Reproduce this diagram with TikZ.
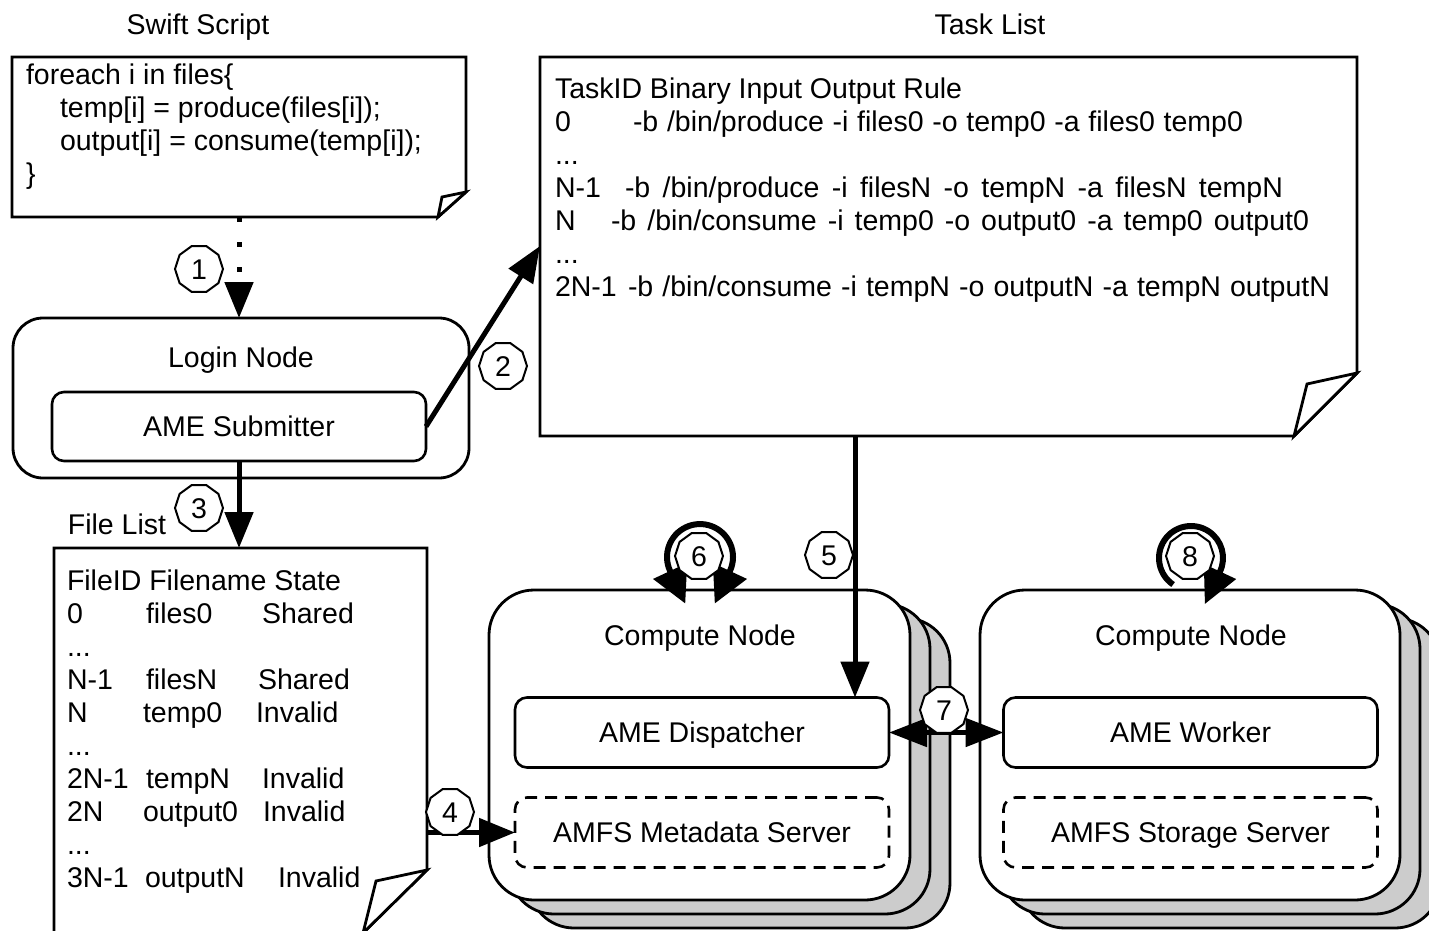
\documentclass[tikz,border=0pt]{standalone}
\usepackage{fontspec}
\setmainfont{Liberation Sans}
\usetikzlibrary{arrows.meta,shapes.geometric,calc}
\definecolor{stackgray}{RGB}{204,204,204}
\tikzset{
  txt/.style={font=\fontsize{28.5}{33}\selectfont, inner sep=0pt, outer sep=0pt},
  lt/.style={txt, anchor=base west},
  ct/.style={txt, anchor=base},
  docline/.style={line width=2.8pt},
  hold/.style={inner sep=0pt, outer sep=0pt, minimum width=#1},
  bigbox/.style={draw, line width=2.8pt, rectangle, inner sep=0pt, outer sep=0pt},
  innerbox/.style={txt, draw, line width=2.6pt, rounded corners=12pt, fill=white,
     minimum width=374pt, minimum height=70pt, text height=20.5pt, text depth=0pt},
  dashbox/.style={innerbox, dash pattern=on 12pt off 8pt},
  num/.style={txt, draw, line width=2pt, fill=white, regular polygon, regular polygon sides=10,
     minimum size=48pt, text height=20.5pt, text depth=0pt},
  arr/.style={line width=5pt, -{Triangle[width=28pt,length=36pt]}},
  dbl/.style={line width=5pt, {Triangle[width=28pt,length=38pt]}-{Triangle[width=28pt,length=38pt]}},
  loopline/.style={line width=6pt}
}
\begin{document}
\begin{tikzpicture}[x=1pt,y=-1pt]
\useasboundingbox (0,0) rectangle (1429,930);

% ---------- Swift script ----------
\node[ct] (swiftlbl) at (198,34) {Swift Script};
\node[hold=454pt, minimum height=160pt] (swift) at (239,137) {};
\draw[docline, fill=white] (12,57) -- (466,57) -- (466,192) -- (438,217) -- (12,217) -- cycle;
\draw[docline, fill=white] (466,192) -- (442,197) -- (438,217) -- cycle;
\node[lt] (s1) at (26,84) {foreach i in files\{};
\node[lt] (s2) at (60,117) {temp[i] = produce(files[i]);};
\node[lt] (s3) at (60,150) {output[i] = consume(temp[i]);};
\node[lt] (s4) at (26,183) {\}};

% ---------- Task list ----------
\node[ct] (tasklbl) at (990,34) {Task List};
\node[hold=817pt, minimum height=379pt] (task) at (948.5,246.5) {};
\draw[docline, fill=white] (540,57) -- (1357,57) -- (1357,373) -- (1294,436) -- (540,436) -- cycle;
\draw[docline, fill=white] (1357,373) -- (1307,384) -- (1294,436) -- cycle;
\node[lt] (t0) at (555,98) {TaskID Binary Input Output Rule};
\node[lt] (t1a) at (555,131) {0};
\node[lt] (t1b) at (633,131) {\makebox[610pt][s]{-b /bin/produce -i files0 -o temp0 -a files0 temp0}};
\node[lt] (t2) at (555,164) {...};
\node[lt] (t3a) at (555,197) {N-1};
\node[lt] (t3b) at (625,197) {\makebox[658pt][s]{-b /bin/produce -i filesN -o tempN -a filesN tempN}};
\node[lt] (t4a) at (555,230) {N};
\node[lt] (t4b) at (611,230) {\makebox[698pt][s]{-b /bin/consume -i temp0 -o output0 -a temp0 output0}};
\node[lt] (t5) at (555,263) {...};
\node[lt] (t6a) at (555,296) {2N-1};
\node[lt] (t6b) at (628,296) {\makebox[702pt][s]{-b /bin/consume -i tempN -o outputN -a tempN outputN}};

% ---------- Login node ----------
\node[bigbox, rounded corners=30pt, minimum width=456pt, minimum height=160pt, fill=white] (login) at (241,398) {};
\node[ct] (loginlbl) at (241,367) {Login Node};
\node[innerbox, minimum height=69pt] (sub) at (239,426.5) {AME Submitter};

% ---------- File list ----------
\node[ct] (filelbl) at (117,534) {File List};
\node[hold=373pt, minimum height=384pt] (flist) at (240.5,740) {};
\draw[docline, fill=white] (54,548) -- (427,548) -- (427,870) -- (363,933) -- (54,933) -- cycle;
\draw[docline, fill=white] (427,870) -- (376,881) -- (363,933) -- cycle;
\node[lt] (f0) at (67,590) {FileID Filename State};
\node[lt] (f1a) at (67,623) {0};
\node[lt] (f1b) at (146,623) {files0};
\node[lt] (f1c) at (262,623) {Shared};
\node[lt] (f2) at (67,656) {...};
\node[lt] (f3a) at (67,689) {N-1};
\node[lt] (f3b) at (146,689) {filesN};
\node[lt] (f3c) at (258,689) {Shared};
\node[lt] (f4a) at (67,722) {N};
\node[lt] (f4b) at (143,722) {temp0};
\node[lt] (f4c) at (256,722) {Invalid};
\node[lt] (f5) at (67,755) {...};
\node[lt] (f6a) at (67,788) {2N-1};
\node[lt] (f6b) at (146,788) {tempN};
\node[lt] (f6c) at (262,788) {Invalid};
\node[lt] (f7a) at (67,821) {2N};
\node[lt] (f7b) at (143,821) {output0};
\node[lt] (f7c) at (263,821) {Invalid};
\node[lt] (f8) at (67,854) {...};
\node[lt] (f9a) at (67,887) {3N-1};
\node[lt] (f9b) at (145,887) {outputN};
\node[lt] (f9c) at (278,887) {Invalid};

% ---------- Compute node 1 (stack) ----------
\node[bigbox, rounded corners=45pt, minimum width=421pt, minimum height=310pt, fill=stackgray] (cn1c) at (739.5,773) {};
\node[bigbox, rounded corners=45pt, minimum width=421pt, minimum height=310pt, fill=stackgray] (cn1b) at (719.5,759) {};
\node[bigbox, rounded corners=45pt, minimum width=421pt, minimum height=310pt, fill=white] (cn1) at (699.5,745) {};
\node[ct] (cn1lbl) at (700,645) {Compute Node};
\node[innerbox] (disp) at (702,732.5) {AME Dispatcher};
\node[dashbox] (amfs1) at (702,832.5) {AMFS Metadata Server};

% ---------- Compute node 2 (stack) ----------
\node[bigbox, rounded corners=45pt, minimum width=420pt, minimum height=310pt, fill=stackgray] (cn2c) at (1230,773) {};
\node[bigbox, rounded corners=45pt, minimum width=420pt, minimum height=310pt, fill=stackgray] (cn2b) at (1210,759) {};
\node[bigbox, rounded corners=45pt, minimum width=420pt, minimum height=310pt, fill=white] (cn2) at (1190,745) {};
\node[ct] (cn2lbl) at (1191,645) {Compute Node};
\node[innerbox] (worker) at (1190.5,732.5) {AME Worker};
\node[dashbox] (amfs2) at (1190.5,832.5) {AMFS Storage Server};

% ---------- Connectors ----------
\draw[arr, line cap=butt, dash pattern=on 5pt off 20pt] (swift.south) -- (swift.south |- login.north);
\draw[arr] (sub.east) -- ([yshift=-189pt]task.north west);
\draw[arr] (sub.south) -- (sub.south |- flist.north);
\draw[arr] (flist.east |- amfs1.west) -- (amfs1.west);
\draw[arr] ([xshift=-93.5pt]task.south) -- ([xshift=-93.5pt]task.south |- disp.north);
\draw[dbl] (disp.east) -- (worker.west);

% self loops
\coordinate (c6) at (700,557);
\coordinate (c8) at (1191,558);
\draw[loopline, {Triangle[width=36pt,length=36pt]}-{Triangle[width=36pt,length=36pt]}]
  ($(c6)+(-29.9,14)+(15.2,32.6)$) -- ($(c6)+(-29.9,14)$)
  arc[start angle=-205, end angle=25, radius=33] -- ++(-15.2,32.6);
\draw[loopline, -{Triangle[width=34pt,length=36pt]}]
  ($(c8)+(-236:32)$)
  arc[start angle=-236, end angle=25, radius=32] -- ++(-15.2,32.6);

% ---------- Numbers ----------
\node[num] (n1) at (199,269) {1};
\node[num] (n2) at (503,366) {2};
\node[num] (n3) at (199,508) {3};
\node[num] (n4) at (450,812) {4};
\node[num] (n5) at (829,555) {5};
\node[num] (n6) at (699,556) {6};
\node[num] (n7) at (944,710) {7};
\node[num] (n8) at (1190,556) {8};
\end{tikzpicture}
\end{document}
